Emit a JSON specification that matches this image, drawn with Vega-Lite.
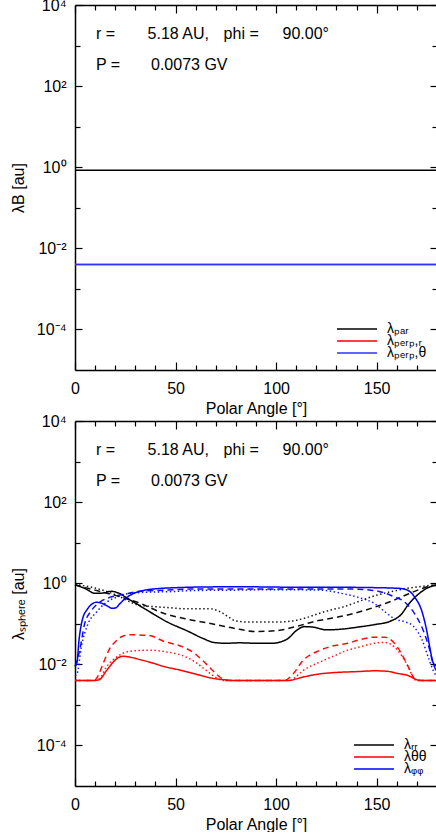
{
 "$schema": "https://vega.github.io/schema/vega-lite/v6.json",
 "padding": {"left": 10, "top": -3, "right": 0, "bottom": 0},
 "spacing": 51,
 "bounds": "flush",
 "config": {
  "font": "Liberation Sans",
  "view": {"stroke": null},
  "axis": {"domainColor": "black", "domainWidth": 1.5, "tickColor": "black", "tickWidth": 1.2, "labelColor": "black", "labelFontSize": 16, "titleFontSize": 16, "titleFontWeight": "normal", "titleColor": "black", "grid": false, "labelFont": "Liberation Sans", "titleFont": "Liberation Sans", "labelOverlap": false, "labelFlush": false},
  "legend": {"orient": "bottom-right", "title": null, "symbolType": "stroke", "symbolSize": 1600, "symbolStrokeWidth": 1.5, "labelFontSize": 14, "labelFont": "Liberation Sans", "labelColor": "black", "offset": 10, "rowPadding": -2, "clipHeight": 10, "labelOffset": 9, "padding": 0, "symbolOpacity": 1}
 },
 "datasets": {
  "notes": [
   {"x": 10.4, "y": 1950, "t": "r ="}, {"x": 36.1, "y": 1950, "t": "5.18 AU,"}, {"x": 73.9, "y": 1950, "t": "phi ="}, {"x": 103.2, "y": 1950, "t": "90.00°"},
   {"x": 10.4, "y": 330, "t": "P ="}, {"x": 37.8, "y": 330, "t": "0.0073 GV"}
  ],
  "top": [
   {"a": 0, "v": 0.84, "c": "par"}, {"a": 180, "v": 0.84, "c": "par"},
   {"a": 0, "v": 0.004, "c": "perp_r"}, {"a": 180, "v": 0.004, "c": "perp_r"},
   {"a": 0, "v": 0.004, "c": "perp_t"}, {"a": 180, "v": 0.004, "c": "perp_t"}
  ],
  "bottom": [
   {"a":0,"v":0.912,"c":"rr","s":"solid"},{"a":5,"v":0.741,"c":"rr","s":"solid"},{"a":10,"v":0.562,"c":"rr","s":"solid"},{"a":14,"v":0.575,"c":"rr","s":"solid"},{"a":18,"v":0.631,"c":"rr","s":"solid"},{"a":22,"v":0.562,"c":"rr","s":"solid"},{"a":26,"v":0.427,"c":"rr","s":"solid"},{"a":32,"v":0.282,"c":"rr","s":"solid"},{"a":39,"v":0.174,"c":"rr","s":"solid"},{"a":46,"v":0.110,"c":"rr","s":"solid"},{"a":56,"v":0.0661,"c":"rr","s":"solid"},{"a":64,"v":0.0427,"c":"rr","s":"solid"},{"a":69,"v":0.0347,"c":"rr","s":"solid"},{"a":75,"v":0.0331,"c":"rr","s":"solid"},{"a":82,"v":0.0339,"c":"rr","s":"solid"},{"a":90,"v":0.0331,"c":"rr","s":"solid"},{"a":98,"v":0.0331,"c":"rr","s":"solid"},{"a":102,"v":0.0355,"c":"rr","s":"solid"},{"a":106,"v":0.0437,"c":"rr","s":"solid"},{"a":110,"v":0.0676,"c":"rr","s":"solid"},{"a":114,"v":0.0851,"c":"rr","s":"solid"},{"a":118,"v":0.0832,"c":"rr","s":"solid"},{"a":125,"v":0.0708,"c":"rr","s":"solid"},{"a":133,"v":0.0741,"c":"rr","s":"solid"},{"a":141,"v":0.0832,"c":"rr","s":"solid"},{"a":149,"v":0.0955,"c":"rr","s":"solid"},{"a":157,"v":0.117,"c":"rr","s":"solid"},{"a":162,"v":0.166,"c":"rr","s":"solid"},{"a":166,"v":0.309,"c":"rr","s":"solid"},{"a":171,"v":0.550,"c":"rr","s":"solid"},{"a":176,"v":0.794,"c":"rr","s":"solid"},{"a":180,"v":0.891,"c":"rr","s":"solid"},
   {"a":0,"v":0.912,"c":"rr","s":"dashed"},{"a":10,"v":0.676,"c":"rr","s":"dashed"},{"a":20,"v":0.501,"c":"rr","s":"dashed"},{"a":31,"v":0.339,"c":"rr","s":"dashed"},{"a":44,"v":0.182,"c":"rr","s":"dashed"},{"a":56,"v":0.129,"c":"rr","s":"dashed"},{"a":68,"v":0.100,"c":"rr","s":"dashed"},{"a":80,"v":0.0759,"c":"rr","s":"dashed"},{"a":90,"v":0.0646,"c":"rr","s":"dashed"},{"a":100,"v":0.0676,"c":"rr","s":"dashed"},{"a":105,"v":0.0741,"c":"rr","s":"dashed"},{"a":112,"v":0.0912,"c":"rr","s":"dashed"},{"a":121,"v":0.120,"c":"rr","s":"dashed"},{"a":128,"v":0.138,"c":"rr","s":"dashed"},{"a":135,"v":0.162,"c":"rr","s":"dashed"},{"a":142,"v":0.200,"c":"rr","s":"dashed"},{"a":149,"v":0.257,"c":"rr","s":"dashed"},{"a":158,"v":0.372,"c":"rr","s":"dashed"},{"a":166,"v":0.550,"c":"rr","s":"dashed"},{"a":172,"v":0.724,"c":"rr","s":"dashed"},{"a":177,"v":0.871,"c":"rr","s":"dashed"},{"a":180,"v":0.912,"c":"rr","s":"dashed"},
   {"a":0,"v":0.933,"c":"rr","s":"dotted"},{"a":10,"v":0.759,"c":"rr","s":"dotted"},{"a":20,"v":0.525,"c":"rr","s":"dotted"},{"a":31,"v":0.295,"c":"rr","s":"dotted"},{"a":40,"v":0.263,"c":"rr","s":"dotted"},{"a":46,"v":0.251,"c":"rr","s":"dotted"},{"a":55,"v":0.234,"c":"rr","s":"dotted"},{"a":67,"v":0.234,"c":"rr","s":"dotted"},{"a":72,"v":0.200,"c":"rr","s":"dotted"},{"a":76,"v":0.151,"c":"rr","s":"dotted"},{"a":80,"v":0.117,"c":"rr","s":"dotted"},{"a":87,"v":0.110,"c":"rr","s":"dotted"},{"a":100,"v":0.110,"c":"rr","s":"dotted"},{"a":108,"v":0.117,"c":"rr","s":"dotted"},{"a":115,"v":0.141,"c":"rr","s":"dotted"},{"a":121,"v":0.178,"c":"rr","s":"dotted"},{"a":128,"v":0.224,"c":"rr","s":"dotted"},{"a":133,"v":0.257,"c":"rr","s":"dotted"},{"a":140,"v":0.339,"c":"rr","s":"dotted"},{"a":149,"v":0.490,"c":"rr","s":"dotted"},{"a":158,"v":0.631,"c":"rr","s":"dotted"},{"a":166,"v":0.759,"c":"rr","s":"dotted"},{"a":172,"v":0.832,"c":"rr","s":"dotted"},{"a":180,"v":0.912,"c":"rr","s":"dotted"},
   {"a":0,"v":0.00398,"c":"tt","s":"solid"},{"a":9,"v":0.00398,"c":"tt","s":"solid"},{"a":12,"v":0.00417,"c":"tt","s":"solid"},{"a":15.6,"v":0.00692,"c":"tt","s":"solid"},{"a":18.9,"v":0.0112,"c":"tt","s":"solid"},{"a":21,"v":0.0141,"c":"tt","s":"solid"},{"a":24,"v":0.0158,"c":"tt","s":"solid"},{"a":28,"v":0.0148,"c":"tt","s":"solid"},{"a":32,"v":0.0132,"c":"tt","s":"solid"},{"a":38,"v":0.0110,"c":"tt","s":"solid"},{"a":44,"v":0.00891,"c":"tt","s":"solid"},{"a":52,"v":0.00724,"c":"tt","s":"solid"},{"a":60,"v":0.00575,"c":"tt","s":"solid"},{"a":68,"v":0.00457,"c":"tt","s":"solid"},{"a":74,"v":0.00417,"c":"tt","s":"solid"},{"a":80,"v":0.00398,"c":"tt","s":"solid"},{"a":106,"v":0.00398,"c":"tt","s":"solid"},{"a":110,"v":0.00437,"c":"tt","s":"solid"},{"a":113,"v":0.00479,"c":"tt","s":"solid"},{"a":121,"v":0.00575,"c":"tt","s":"solid"},{"a":130,"v":0.00631,"c":"tt","s":"solid"},{"a":140,"v":0.00661,"c":"tt","s":"solid"},{"a":149,"v":0.00692,"c":"tt","s":"solid"},{"a":155,"v":0.00676,"c":"tt","s":"solid"},{"a":160,"v":0.00603,"c":"tt","s":"solid"},{"a":165.8,"v":0.00525,"c":"tt","s":"solid"},{"a":170.8,"v":0.00407,"c":"tt","s":"solid"},{"a":174,"v":0.00398,"c":"tt","s":"solid"},{"a":180,"v":0.00398,"c":"tt","s":"solid"},
   {"a":0,"v":0.00398,"c":"tt","s":"dashed"},{"a":9.5,"v":0.00398,"c":"tt","s":"dashed"},{"a":11.5,"v":0.00525,"c":"tt","s":"dashed"},{"a":13.9,"v":0.0102,"c":"tt","s":"dashed"},{"a":17.2,"v":0.0240,"c":"tt","s":"dashed"},{"a":20.5,"v":0.0380,"c":"tt","s":"dashed"},{"a":24,"v":0.0501,"c":"tt","s":"dashed"},{"a":28,"v":0.0537,"c":"tt","s":"dashed"},{"a":37,"v":0.0513,"c":"tt","s":"dashed"},{"a":44,"v":0.0372,"c":"tt","s":"dashed"},{"a":52,"v":0.0288,"c":"tt","s":"dashed"},{"a":58.6,"v":0.0200,"c":"tt","s":"dashed"},{"a":63.6,"v":0.0123,"c":"tt","s":"dashed"},{"a":68.6,"v":0.00692,"c":"tt","s":"dashed"},{"a":72.7,"v":0.00457,"c":"tt","s":"dashed"},{"a":75.5,"v":0.00398,"c":"tt","s":"dashed"},{"a":104,"v":0.00398,"c":"tt","s":"dashed"},{"a":108.4,"v":0.00575,"c":"tt","s":"dashed"},{"a":113.3,"v":0.0123,"c":"tt","s":"dashed"},{"a":121.5,"v":0.0219,"c":"tt","s":"dashed"},{"a":128,"v":0.0282,"c":"tt","s":"dashed"},{"a":135.6,"v":0.0331,"c":"tt","s":"dashed"},{"a":141,"v":0.0398,"c":"tt","s":"dashed"},{"a":149,"v":0.0468,"c":"tt","s":"dashed"},{"a":154,"v":0.0468,"c":"tt","s":"dashed"},{"a":159,"v":0.0324,"c":"tt","s":"dashed"},{"a":162.5,"v":0.0178,"c":"tt","s":"dashed"},{"a":165.8,"v":0.00851,"c":"tt","s":"dashed"},{"a":168.3,"v":0.00479,"c":"tt","s":"dashed"},{"a":170,"v":0.00398,"c":"tt","s":"dashed"},{"a":180,"v":0.00398,"c":"tt","s":"dashed"},
   {"a":0,"v":0.00398,"c":"tt","s":"dotted"},{"a":10.5,"v":0.00398,"c":"tt","s":"dotted"},{"a":13,"v":0.00501,"c":"tt","s":"dotted"},{"a":15.6,"v":0.00851,"c":"tt","s":"dotted"},{"a":20.5,"v":0.0148,"c":"tt","s":"dotted"},{"a":27,"v":0.0209,"c":"tt","s":"dotted"},{"a":37,"v":0.0224,"c":"tt","s":"dotted"},{"a":46,"v":0.0200,"c":"tt","s":"dotted"},{"a":52,"v":0.0174,"c":"tt","s":"dotted"},{"a":60,"v":0.0112,"c":"tt","s":"dotted"},{"a":65,"v":0.00724,"c":"tt","s":"dotted"},{"a":70,"v":0.00479,"c":"tt","s":"dotted"},{"a":73.6,"v":0.00398,"c":"tt","s":"dotted"},{"a":106.7,"v":0.00398,"c":"tt","s":"dotted"},{"a":110,"v":0.00501,"c":"tt","s":"dotted"},{"a":113.3,"v":0.00692,"c":"tt","s":"dotted"},{"a":121.5,"v":0.0112,"c":"tt","s":"dotted"},{"a":128,"v":0.0155,"c":"tt","s":"dotted"},{"a":135.6,"v":0.0224,"c":"tt","s":"dotted"},{"a":141,"v":0.0263,"c":"tt","s":"dotted"},{"a":149,"v":0.0331,"c":"tt","s":"dotted"},{"a":154,"v":0.0347,"c":"tt","s":"dotted"},{"a":159,"v":0.0263,"c":"tt","s":"dotted"},{"a":162.5,"v":0.0162,"c":"tt","s":"dotted"},{"a":165.8,"v":0.00851,"c":"tt","s":"dotted"},{"a":169,"v":0.00417,"c":"tt","s":"dotted"},{"a":171,"v":0.00398,"c":"tt","s":"dotted"},{"a":180,"v":0.00398,"c":"tt","s":"dotted"},
   {"a":0,"v":0.00891,"c":"pp","s":"solid"},{"a":1,"v":0.0112,"c":"pp","s":"solid"},{"a":2,"v":0.0398,"c":"pp","s":"solid"},{"a":3,"v":0.0891,"c":"pp","s":"solid"},{"a":4,"v":0.145,"c":"pp","s":"solid"},{"a":6,"v":0.224,"c":"pp","s":"solid"},{"a":8,"v":0.295,"c":"pp","s":"solid"},{"a":10.6,"v":0.339,"c":"pp","s":"solid"},{"a":12.5,"v":0.331,"c":"pp","s":"solid"},{"a":15.6,"v":0.282,"c":"pp","s":"solid"},{"a":18.5,"v":0.240,"c":"pp","s":"solid"},{"a":20.5,"v":0.251,"c":"pp","s":"solid"},{"a":22,"v":0.302,"c":"pp","s":"solid"},{"a":25,"v":0.417,"c":"pp","s":"solid"},{"a":28,"v":0.525,"c":"pp","s":"solid"},{"a":34,"v":0.661,"c":"pp","s":"solid"},{"a":42,"v":0.741,"c":"pp","s":"solid"},{"a":50,"v":0.776,"c":"pp","s":"solid"},{"a":70,"v":0.813,"c":"pp","s":"solid"},{"a":90,"v":0.813,"c":"pp","s":"solid"},{"a":110,"v":0.794,"c":"pp","s":"solid"},{"a":130,"v":0.794,"c":"pp","s":"solid"},{"a":150,"v":0.776,"c":"pp","s":"solid"},{"a":158,"v":0.759,"c":"pp","s":"solid"},{"a":162,"v":0.741,"c":"pp","s":"solid"},{"a":165.7,"v":0.661,"c":"pp","s":"solid"},{"a":169,"v":0.447,"c":"pp","s":"solid"},{"a":172.4,"v":0.209,"c":"pp","s":"solid"},{"a":174.9,"v":0.0676,"c":"pp","s":"solid"},{"a":176.5,"v":0.0251,"c":"pp","s":"solid"},{"a":178,"v":0.0112,"c":"pp","s":"solid"},{"a":180,"v":0.00891,"c":"pp","s":"solid"},
   {"a":0,"v":0.00891,"c":"pp","s":"dashed"},{"a":2.3,"v":0.0219,"c":"pp","s":"dashed"},{"a":4.8,"v":0.100,"c":"pp","s":"dashed"},{"a":8.1,"v":0.209,"c":"pp","s":"dashed"},{"a":12.3,"v":0.339,"c":"pp","s":"dashed"},{"a":17.2,"v":0.447,"c":"pp","s":"dashed"},{"a":23.8,"v":0.525,"c":"pp","s":"dashed"},{"a":32,"v":0.631,"c":"pp","s":"dashed"},{"a":46,"v":0.676,"c":"pp","s":"dashed"},{"a":60,"v":0.724,"c":"pp","s":"dashed"},{"a":90,"v":0.724,"c":"pp","s":"dashed"},{"a":120,"v":0.724,"c":"pp","s":"dashed"},{"a":133,"v":0.724,"c":"pp","s":"dashed"},{"a":149,"v":0.661,"c":"pp","s":"dashed"},{"a":157.5,"v":0.490,"c":"pp","s":"dashed"},{"a":164,"v":0.339,"c":"pp","s":"dashed"},{"a":169,"v":0.174,"c":"pp","s":"dashed"},{"a":173.2,"v":0.0676,"c":"pp","s":"dashed"},{"a":176,"v":0.0263,"c":"pp","s":"dashed"},{"a":178.2,"v":0.0102,"c":"pp","s":"dashed"},{"a":180,"v":0.00631,"c":"pp","s":"dashed"},
   {"a":0,"v":0.00525,"c":"pp","s":"dotted"},{"a":1,"v":0.00575,"c":"pp","s":"dotted"},{"a":3.1,"v":0.0263,"c":"pp","s":"dotted"},{"a":6.5,"v":0.100,"c":"pp","s":"dotted"},{"a":10.6,"v":0.191,"c":"pp","s":"dotted"},{"a":15.6,"v":0.339,"c":"pp","s":"dotted"},{"a":20.5,"v":0.447,"c":"pp","s":"dotted"},{"a":27,"v":0.562,"c":"pp","s":"dotted"},{"a":37,"v":0.603,"c":"pp","s":"dotted"},{"a":46,"v":0.617,"c":"pp","s":"dotted"},{"a":60,"v":0.661,"c":"pp","s":"dotted"},{"a":80,"v":0.676,"c":"pp","s":"dotted"},{"a":100,"v":0.692,"c":"pp","s":"dotted"},{"a":121.5,"v":0.676,"c":"pp","s":"dotted"},{"a":132.6,"v":0.562,"c":"pp","s":"dotted"},{"a":140.9,"v":0.447,"c":"pp","s":"dotted"},{"a":149.2,"v":0.309,"c":"pp","s":"dotted"},{"a":154,"v":0.200,"c":"pp","s":"dotted"},{"a":159,"v":0.132,"c":"pp","s":"dotted"},{"a":164,"v":0.112,"c":"pp","s":"dotted"},{"a":168,"v":0.0891,"c":"pp","s":"dotted"},{"a":172.4,"v":0.0417,"c":"pp","s":"dotted"},{"a":175.7,"v":0.0148,"c":"pp","s":"dotted"},{"a":178.2,"v":0.00692,"c":"pp","s":"dotted"},{"a":180,"v":0.00490,"c":"pp","s":"dotted"}
  ]
 },
 "vconcat": [
  {
   "width": 362, "height": 365,
   "layer": [
    {
     "data": {"name": "top"},
     "mark": {"type": "line", "strokeWidth": 1.5},
     "encoding": {
      "x": {"field": "a", "type": "quantitative", "scale": {"domain": [0, 180], "nice": false, "zero": false},
            "axis": {"orient": "bottom", "values": [0,10,20,30,40,50,60,70,80,90,100,110,120,130,140,150,160,170,180], "labelExpr": "datum.value % 50 === 0 && datum.value < 180 ? datum.label : ''", "tickSize": {"condition": {"test": "datum.value % 50 === 0", "value": -8}, "value": -5}, "labelPadding": 18, "title": "Polar Angle [°]", "titlePadding": 1}},
      "y": {"field": "v", "type": "quantitative", "scale": {"type": "log", "domain": [0.00001, 10000], "nice": false},
            "axis": {"orient": "left", "values": [0.0001,0.001,0.01,0.1,1,10,100,1000,10000], "labelExpr": "datum.value == 10000 ? '10⁴' : datum.value == 100 ? '10²' : datum.value == 1 ? '10⁰' : datum.value == 0.01 ? '10⁻²' : datum.value == 0.0001 ? '10⁻⁴' : ''", "tickSize": {"condition": {"test": "round(log(datum.value)/LN10) % 2 === 0", "value": -7}, "value": -5}, "labelPadding": 16, "title": "λB [au]", "titlePadding": 10}},
      "color": {"field": "c", "type": "nominal", "scale": {"domain": ["par", "perp_r", "perp_t"], "range": ["#000000", "#ff0000", "#3030ff"]},
                "legend": {"labelExpr": "datum.label == 'par' ? 'λₚₐᵣ' : datum.label == 'perp_r' ? 'λₚₑᵣₚ,ᵣ' : 'λₚₑᵣₚ,θ'"}}
     }
    },
    {
     "data": {"name": "notes"},
     "mark": {"type": "text", "align": "left", "baseline": "middle", "fontSize": 16, "font": "Liberation Sans", "color": "black"},
     "encoding": {
      "x": {"field": "x", "type": "quantitative", "axis": {"orient": "top", "values": [0,10,20,30,40,50,60,70,80,90,100,110,120,130,140,150,160,170,180], "labels": false, "title": null, "tickSize": {"condition": {"test": "datum.value % 50 === 0", "value": -8}, "value": -5}}},
      "y": {"field": "y", "type": "quantitative", "axis": {"orient": "right", "values": [0.0001,0.001,0.01,0.1,1,10,100,1000,10000], "labels": false, "title": null, "tickSize": {"condition": {"test": "round(log(datum.value)/LN10) % 2 === 0", "value": -7}, "value": -5}}},
      "text": {"field": "t"}
     }
    }
   ],
   "resolve": {"axis": {"x": "independent", "y": "independent"}}
  },
  {
   "width": 362, "height": 365,
   "layer": [
    {
     "data": {"name": "bottom"},
     "mark": {"type": "line", "strokeWidth": 1.5, "interpolate": "monotone"},
     "encoding": {
      "x": {"field": "a", "type": "quantitative", "scale": {"domain": [0, 180], "nice": false, "zero": false},
            "axis": {"orient": "bottom", "values": [0,10,20,30,40,50,60,70,80,90,100,110,120,130,140,150,160,170,180], "labelExpr": "datum.value % 50 === 0 && datum.value < 180 ? datum.label : ''", "tickSize": {"condition": {"test": "datum.value % 50 === 0", "value": -8}, "value": -5}, "labelPadding": 18, "title": "Polar Angle [°]", "titlePadding": 1}},
      "y": {"field": "v", "type": "quantitative", "scale": {"type": "log", "domain": [0.00001, 10000], "nice": false},
            "axis": {"orient": "left", "values": [0.0001,0.001,0.01,0.1,1,10,100,1000,10000], "labelExpr": "datum.value == 10000 ? '10⁴' : datum.value == 100 ? '10²' : datum.value == 1 ? '10⁰' : datum.value == 0.01 ? '10⁻²' : datum.value == 0.0001 ? '10⁻⁴' : ''", "tickSize": {"condition": {"test": "round(log(datum.value)/LN10) % 2 === 0", "value": -7}, "value": -5}, "labelPadding": 16, "title": "λₛₚₕₑᵣₑ [au]", "titlePadding": 10}},
      "color": {"field": "c", "type": "nominal", "scale": {"domain": ["rr", "tt", "pp"], "range": ["#000000", "#ff0000", "#0000ff"]},
                "legend": {"labelExpr": "datum.label == 'rr' ? 'λᵣᵣ' : datum.label == 'tt' ? 'λθθ' : 'λᵩᵩ'"}},
      "strokeDash": {"field": "s", "type": "nominal", "scale": {"domain": ["solid", "dashed", "dotted"], "range": [[1, 0], [6, 4], [1.5, 2.5]]}, "legend": null},
      "opacity": {"field": "s", "type": "nominal", "scale": {"domain": ["solid", "dashed", "dotted"], "range": [1, 0.9, 0.45]}, "legend": null}
     }
    },
    {
     "data": {"name": "notes"},
     "mark": {"type": "text", "align": "left", "baseline": "middle", "fontSize": 16, "font": "Liberation Sans", "color": "black"},
     "encoding": {
      "x": {"field": "x", "type": "quantitative", "axis": {"orient": "top", "values": [0,10,20,30,40,50,60,70,80,90,100,110,120,130,140,150,160,170,180], "labels": false, "title": null, "tickSize": {"condition": {"test": "datum.value % 50 === 0", "value": -8}, "value": -5}}},
      "y": {"field": "y", "type": "quantitative", "axis": {"orient": "right", "values": [0.0001,0.001,0.01,0.1,1,10,100,1000,10000], "labels": false, "title": null, "tickSize": {"condition": {"test": "round(log(datum.value)/LN10) % 2 === 0", "value": -7}, "value": -5}}},
      "text": {"field": "t"}
     }
    }
   ],
   "resolve": {"axis": {"x": "independent", "y": "independent"}}
  }
 ],
 "resolve": {"scale": {"color": "independent", "strokeDash": "independent", "opacity": "independent"}, "legend": {"color": "independent"}}
}
